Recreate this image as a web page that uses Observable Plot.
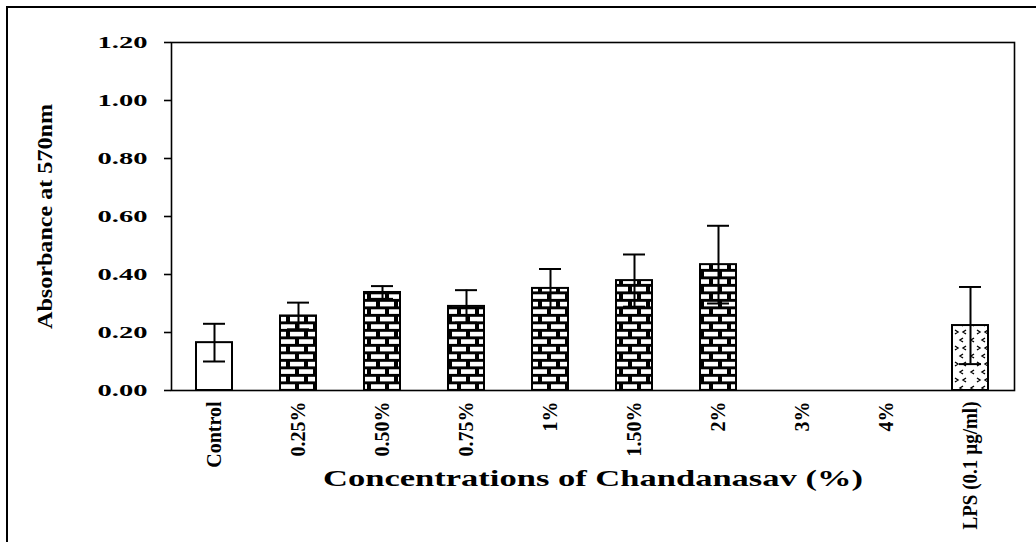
<!DOCTYPE html>
<html><head><meta charset="utf-8">
<script src="https://cdn.jsdelivr.net/npm/d3@7"></script>
<script src="https://cdn.jsdelivr.net/npm/@observablehq/plot@0.6"></script>
<style>
body{margin:0;background:#fff;}
#wrap{position:relative;width:1036px;height:542px;overflow:hidden;}
#frame{position:absolute;left:6px;top:6px;right:-10px;bottom:-10px;border-top:2px solid #000;border-left:2px solid #000;pointer-events:none;}
</style></head><body>
<div id="wrap"><div id="chart"></div><div id="frame"></div></div>
<script>
const categories = ["Control","0.25%","0.50%","0.75%","1%","1.50%","2%","3%","4%","LPS (0.1 µg/ml)"];
const means  = [0.165, 0.257, 0.338, 0.290, 0.352, 0.379, 0.434, null, null, 0.224];
const errors = [0.065, 0.046, 0.022, 0.056, 0.067, 0.090, 0.134, null, null, 0.133];
const fills  = ["white","brick","brick","brick","brick","brick","brick",null,null,"dots"];
const yTicks = [0, 0.2, 0.4, 0.6, 0.8, 1.0, 1.2];
const xTitle = "Concentrations of Chandanasav (%)";
const yTitle = "Absorbance at 570nm";

const rows = categories.map((c,i)=>({cat:c, mean:means[i], err:errors[i], fill:fills[i]})).filter(d=>d.mean!=null);
const fillOf = f => f === "white" ? "white" : `url(#${f})`;

const font = "'Liberation Serif', 'Times New Roman', serif";
const chart = Plot.plot({
  width:1036, height:542,
  marginLeft:171, marginRight:22, marginTop:42, marginBottom:152,
  style:{fontFamily:font, fontWeight:"bold", background:"white", color:"black"},
  x:{domain:categories, paddingInner:0.57, paddingOuter:0.285},
  y:{domain:[0,1.2]},
  marks:[
    ...["white","brick","dots"].map(f => Plot.barY(rows.filter(d=>d.fill===f), {x:"cat", y:"mean", fill:fillOf(f), stroke:"black", strokeWidth:2})),
    Plot.ruleX(rows, {x:"cat", y1:d=>d.mean-d.err, y2:d=>d.mean+d.err, stroke:"black", strokeWidth:2}),
    Plot.tickY(rows, {x:"cat", y:d=>d.mean+d.err, insetLeft:7, insetRight:7, stroke:"black", strokeWidth:2}),
    Plot.tickY(rows, {x:"cat", y:d=>d.mean-d.err, insetLeft:7, insetRight:7, stroke:"black", strokeWidth:2}),
    Plot.frame({stroke:"black", strokeWidth:1.6}),
    Plot.axisY({ticks:yTicks, tickFormat:d3.format(".2f"), tickSize:7, tickPadding:17, fontSize:17, strokeWidth:1.6,
      label:yTitle, labelAnchor:"center", labelOffset:135, labelArrow:"none"}),
    Plot.axisX({tickSize:0, tickPadding:11, tickRotate:-90, fontSize:20,
      label:xTitle, labelAnchor:"center", labelOffset:95, labelArrow:"none"})
  ]
});
document.getElementById("chart").appendChild(chart);

// patterns
const svg = d3.select(chart);
const defs = svg.insert("defs", ":first-child");
const bp = defs.append("pattern").attr("id","brick").attr("patternUnits","userSpaceOnUse").attr("width",18).attr("height",15);
bp.append("rect").attr("width",18).attr("height",15).attr("fill","black");
[[2,1.8],[ -7,9.3],[11,9.3]].forEach(([x,y]) => bp.append("rect").attr("x",x).attr("y",y).attr("width",14).attr("height",4.6).attr("fill","white"));
const dp = defs.append("pattern").attr("id","dots").attr("patternUnits","userSpaceOnUse").attr("width",22).attr("height",16);
dp.append("rect").attr("width",22).attr("height",16).attr("fill","white");
dp.append("path").attr("d","M6,2 l-3,2 l3,2 M17,2 l-3,2 l3,2 M9,10 l3,2 l-3,2 M20,10 l-3,2 l3,2")
  .attr("stroke","black").attr("stroke-width",1.4).attr("fill","none");

// title styling
svg.selectAll("g[aria-label='y-axis tick label'] text").attr("textLength",50).attr("lengthAdjust","spacingAndGlyphs");
svg.selectAll("g[aria-label='x-axis tick label'] text").filter(function(){return this.textContent.startsWith("LPS");})
  .attr("textLength",128).attr("lengthAdjust","spacingAndGlyphs");
svg.selectAll("g[aria-label='y-axis label'] text, g[aria-label='y-axis label']").attr("font-size",22);
svg.selectAll("g[aria-label='y-axis label'] text").attr("textLength",225).attr("lengthAdjust","spacingAndGlyphs");
svg.selectAll("g[aria-label='x-axis label'] text, g[aria-label='x-axis label']").attr("font-size",24);
svg.selectAll("g[aria-label='x-axis label'] text").attr("textLength",540).attr("lengthAdjust","spacingAndGlyphs");
</script>
</body></html>
